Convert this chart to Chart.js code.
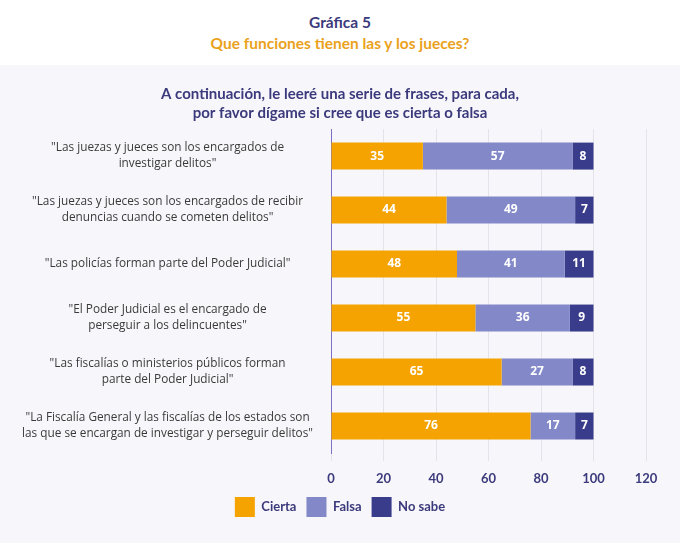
<!DOCTYPE html>
<html lang="es">
<head>
    <meta charset="UTF-8">
    <title>Gráfica 5</title>
    <script src="https://cdn.jsdelivr.net/npm/chart.js"></script>
    <style>
        html, body { margin: 0; padding: 0; }
        body { width: 680px; height: 543px; overflow: hidden; background: #ffffff; }
        .cabecera { height: 65px; text-align: center; font-family: Lato, sans-serif; font-weight: 700; font-size: 15.5px; }
        .cabecera .num { color: #3b3a7c; padding-top: 12px; line-height: 21px; }
        .cabecera .preg { color: #eaa21c; line-height: 21px; }
        .zona { height: 478px; background: #f7f6fa; position: relative; }
        canvas { display: block; }
    </style>
</head>
<body>
    <div class="cabecera">
        <div class="num">Gráfica 5</div>
        <div class="preg">Que funciones tienen las y los jueces?</div>
    </div>
    <div class="zona">
        <canvas id="grafica" width="680" height="478"></canvas>
    </div>

    <script>
        // frases (categorías)
        const frases = [
            ['"Las juezas y jueces son los encargados de', 'investigar delitos"'],
            ['"Las juezas y jueces son los encargados de recibir', 'denuncias cuando se cometen delitos"'],
            ['"Las policías forman parte del Poder Judicial"'],
            ['"El Poder Judicial es el encargado de', 'perseguir a los delincuentes"'],
            ['"Las fiscalías o ministerios públicos forman', 'parte del Poder Judicial"'],
            ['"La Fiscalía General y las fiscalías de los estados son', 'las que se encargan de investigar y perseguir delitos"']
        ];
        const cierta = [35, 44, 48, 55, 65, 76];
        const falsa = [57, 49, 41, 36, 27, 17];
        const noSabe = [8, 7, 11, 9, 8, 7];
        const ticksX = [0, 20, 40, 60, 80, 100, 120];

        const azul = '#3b3a7c';

        // etiquetas blancas dentro de cada segmento
        const etiquetas = {
            id: 'etiquetas',
            afterDatasetsDraw(chart) {
                const c = chart.ctx;
                c.save();
                c.fillStyle = '#ffffff';
                c.font = 'bold 12px "Open Sans", sans-serif';
                c.textAlign = 'center';
                c.textBaseline = 'middle';
                chart.data.datasets.forEach((ds, i) => {
                    chart.getDatasetMeta(i).data.forEach((bar, j) => {
                        const x = (bar.x + bar.base) / 2;
                        c.fillText(ds.data[j], x, bar.y);
                    });
                });
                c.restore();
            }
        };

        // título y leyenda centrados sobre todo el ancho
        const centrar = {
            id: 'centrar',
            afterLayout(chart) {
                [chart.titleBlock, chart.legend].forEach(b => {
                    if (b) { b.left = 0; b.right = chart.width; }
                });
            }
        };

        const ctx = document.getElementById('grafica').getContext('2d');
        new Chart(ctx, {
            type: 'bar',
            data: {
                labels: frases,
                datasets: [
                    { label: 'Cierta', data: cierta, backgroundColor: '#f5a300' },
                    { label: 'Falsa', data: falsa, backgroundColor: '#8288c8' },
                    { label: 'No sabe', data: noSabe, backgroundColor: '#383c8a' }
                ]
            },
            options: {
                indexAxis: 'y',
                responsive: false,
                animation: false,
                devicePixelRatio: 1,
                categoryPercentage: 0.5,
                barPercentage: 1,
                layout: { padding: { left: 10, right: 34, top: 0, bottom: 16 } },
                scales: {
                    x: {
                        stacked: true,
                        min: 0,
                        max: 120,
                        afterBuildTicks(scale) { scale.ticks = ticksX.map(v => ({ value: v })); },
                        afterFit(scale) { scale.height = 34; },
                        grid: { color: '#e4e2ea', drawTicks: true, tickLength: 8 },
                        border: { display: false },
                        ticks: {
                            color: azul,
                            padding: 10,
                            font: { family: 'Lato, sans-serif', weight: 'bold', size: 13 }
                        }
                    },
                    y: {
                        stacked: true,
                        grid: { display: false, drawTicks: false },
                        border: { display: true, color: '#7a70c4', width: 1 },
                        afterFit(scale) { scale.width = 321; },
                        ticks: {
                            crossAlign: 'center',
                            padding: 18,
                            color: '#3a3a3a',
                            font: { family: '"Open Sans", sans-serif', size: 11.8, lineHeight: 1.35 }
                        }
                    }
                },
                plugins: {
                    title: {
                        display: true,
                        text: ['A continuación, le leeré una serie de frases, para cada,', 'por favor dígame si cree que es cierta o falsa'],
                        color: azul,
                        font: { family: 'Lato, sans-serif', weight: 'bold', size: 15, lineHeight: 1.27 },
                        padding: { top: 20, bottom: 6 }
                    },
                    legend: {
                        position: 'bottom',
                        labels: {
                            boxWidth: 20,
                            boxHeight: 20,
                            padding: 10,
                            color: azul,
                            font: { family: 'Lato, sans-serif', weight: 'bold', size: 13 }
                        }
                    },
                    tooltip: { enabled: false }
                }
            },
            plugins: [etiquetas, centrar]
        });
    </script>
</body>
</html>
